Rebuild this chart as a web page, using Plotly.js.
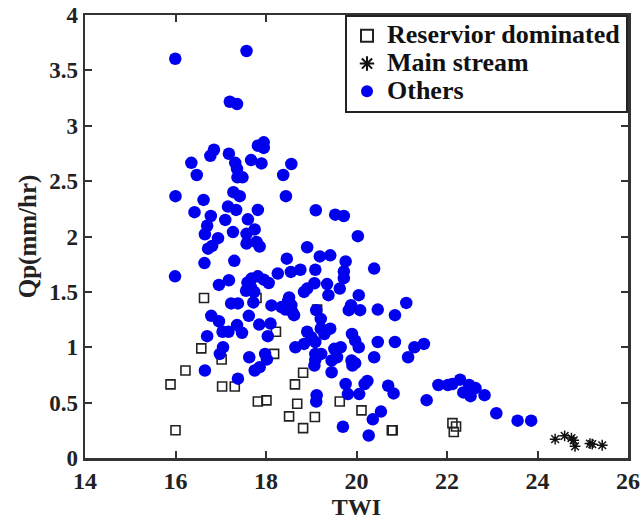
<!DOCTYPE html>
<html>
<head>
<meta charset="utf-8">
<script src="https://cdn.plot.ly/plotly-2.35.2.min.js"></script>
<style>html,body{margin:0;padding:0;background:#fff;}#chart{width:642px;height:528px;}</style>
</head>
<body>
<div id="chart"></div>
<script>
// Reservoir dominated
const resTWI = [15.89,16.00,16.22,16.63,16.57,17.02,17.03,17.31,17.79,17.82,18.01,18.22,18.18,18.64,18.69,18.82,18.51,18.82,19.08,19.13,19.63,20.11,20.78,20.80,22.12,22.20,22.15];
const resQp  = [0.665,0.25,0.79,1.445,0.99,0.89,0.645,0.645,1.445,0.51,0.52,1.14,0.94,0.665,0.49,0.77,0.376,0.27,0.37,1.34,0.51,0.43,0.25,0.25,0.315,0.285,0.235];

// Main stream
const mainTWI = [24.39,24.60,24.75,24.80,24.83,25.16,25.21,25.43];
const mainQp  = [0.17,0.20,0.18,0.16,0.105,0.13,0.125,0.115];

// Others
const othTWI = [15.995,17.57,17.20,17.36,17.18,16.85,16.77,16.35,16.47,17.32,17.36,17.37,17.48,17.67,17.90,17.82,17.95,17.95,18.38,18.56,18.44,16.00,16.62,16.42,16.78,16.70,16.65,16.72,16.81,16.94,16.64,15.99,17.28,17.42,17.16,17.34,17.10,17.27,17.30,17.60,17.82,17.57,17.75,17.57,17.79,17.86,19.10,19.53,19.72,20.03,18.91,19.19,19.42,18.46,19.76,19.72,19.72,20.39,19.63,19.35,19.38,19.09,19.07,18.91,18.84,18.76,18.55,18.26,18.06,17.95,17.82,17.68,17.59,17.67,17.56,17.74,17.18,16.96,17.72,17.23,17.38,18.12,18.34,18.49,18.56,18.58,18.43,18.62,18.51,17.62,16.79,16.96,17.04,17.17,17.36,17.47,16.70,17.05,16.98,17.85,18.10,18.04,17.63,17.98,18.02,17.86,17.75,16.65,17.38,18.65,18.84,18.91,19.00,19.09,19.21,19.21,19.29,19.42,19.11,19.09,19.09,19.22,19.07,19.45,19.45,19.57,19.51,19.65,19.83,19.88,19.90,19.97,20.05,20.08,20.05,19.89,19.97,19.91,20.47,20.39,20.47,20.85,21.10,20.85,21.14,21.28,21.49,19.12,19.11,19.76,19.81,20.06,20.24,20.18,20.70,20.82,20.54,20.36,20.27,19.70,21.55,21.81,22.02,22.12,22.29,22.49,22.36,22.52,22.63,22.83,23.09,23.56,23.86];
const othQp  = [3.605,3.675,3.217,3.196,2.747,2.783,2.728,2.665,2.555,2.665,2.61,2.534,2.534,2.69,2.66,2.82,2.85,2.80,2.555,2.655,2.364,2.364,2.33,2.22,2.185,2.097,2.02,1.89,1.915,1.985,1.76,1.64,2.40,2.364,2.27,2.24,2.15,2.04,1.78,2.155,2.24,2.024,2.064,1.936,1.95,1.91,2.237,2.197,2.185,2.003,1.903,1.82,1.83,1.80,1.775,1.684,1.624,1.71,1.53,1.57,1.47,1.70,1.578,1.53,1.50,1.70,1.68,1.666,1.58,1.61,1.64,1.62,1.584,1.54,1.51,1.50,1.605,1.563,1.405,1.396,1.396,1.378,1.363,1.418,1.38,1.32,1.34,1.29,1.45,1.284,1.284,1.235,1.14,1.14,1.20,1.13,1.10,1.0,0.94,1.205,1.214,1.10,0.91,0.94,0.89,0.82,0.79,0.79,0.716,1.0,1.03,1.14,1.09,1.047,1.256,1.168,1.12,1.168,1.335,0.94,0.886,0.94,0.835,0.88,0.774,0.91,0.986,1.0,1.335,1.38,1.12,1.06,1.0,1.335,1.47,0.88,0.856,0.835,1.047,0.91,1.34,1.29,1.40,1.047,0.91,1.0,1.03,0.567,0.51,0.668,0.577,0.577,0.695,0.668,0.652,0.583,0.419,0.349,0.203,0.282,0.522,0.659,0.659,0.668,0.707,0.659,0.592,0.558,0.631,0.567,0.404,0.337,0.337];

const seriesNames = ['Reservior dominated', 'Main stream', 'Others'];
const xTicks = [14,16,18,20,22,24,26];
const yTicks = [0,0.5,1,1.5,2,2.5,3,3.5,4];
const yTickText = ['0','0.5','1','1.5','2','2.5','3','3.5','4'];
const xTitle = 'TWI';
const yTitle = 'Qp(mm/hr)';

const FONT = 'Liberation Serif, Times New Roman, serif';
const legName = s => '<b><span style="font-size:26px">' + s + '</span></b>';

const traces = [
  {x: resTWI, y: resQp, mode: 'markers', type: 'scatter', name: legName(seriesNames[0]),
   marker: {symbol: 'square-open', size: 9, color: '#222', line: {width: 1.6, color: '#222'}}},
  {x: mainTWI, y: mainQp, mode: 'markers', type: 'scatter', name: legName(seriesNames[1]),
   marker: {symbol: 'asterisk-open', size: 9, color: '#111', line: {width: 1.5, color: '#111'}}},
  {x: othTWI, y: othQp, mode: 'markers', type: 'scatter', name: legName(seriesNames[2]),
   marker: {symbol: 'circle', size: 12.5, color: '#0000ee'}}
];

const layout = {
  width: 642, height: 528,
  margin: {l: 85, r: 14, t: 15, b: 70},
  paper_bgcolor: '#fff', plot_bgcolor: '#fff',
  font: {family: FONT, size: 22, color: '#222'},
  showlegend: true,
  legend: {x: 1, y: 1, xanchor: 'right', yanchor: 'top',
    bordercolor: '#222', borderwidth: 2, bgcolor: '#fff',
    font: {family: FONT, size: 19, color: '#111'}, itemsizing: 'constant', tracegroupgap: 0},
  xaxis: {range: [14, 26], tickvals: xTicks, ticktext: xTicks.map(v => '<b>' + v + '</b>'),
    ticks: 'inside', ticklen: 7, tickwidth: 2, tickcolor: '#333',
    showline: true, linecolor: '#333', linewidth: 2.5, mirror: 'ticks',
    showgrid: false, zeroline: false,
    tickfont: {family: FONT, size: 24, color: '#222'},
    title: {text: '<b>' + xTitle + '</b>', font: {family: FONT, size: 24, color: '#222'}, standoff: 4}},
  yaxis: {range: [0, 4], tickvals: yTicks, ticktext: yTickText.map(v => '<b>' + v + '</b>'),
    ticks: 'inside', ticklen: 7, tickwidth: 2, tickcolor: '#333',
    showline: true, linecolor: '#333', linewidth: 2.5, mirror: 'ticks',
    showgrid: false, zeroline: false,
    tickfont: {family: FONT, size: 23, color: '#222'},
    title: {text: '<b>' + yTitle + '</b>', font: {family: FONT, size: 25, color: '#222'}, standoff: 6}}
};

Plotly.newPlot('chart', traces, layout, {displayModeBar: false, staticPlot: true});
</script>
</body>
</html>
